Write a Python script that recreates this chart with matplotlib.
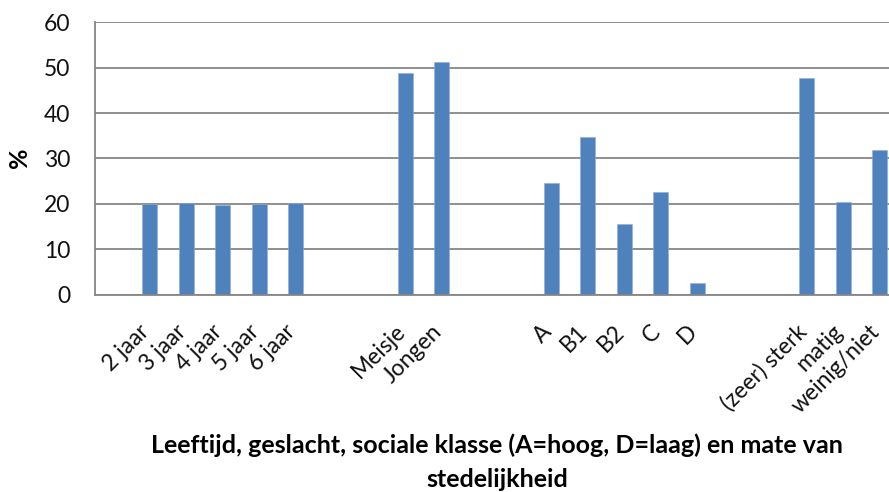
import matplotlib
matplotlib.use("Agg")
import matplotlib.pyplot as plt
import matplotlib.transforms as mtransforms
import numpy as np

categories = ["", "2 jaar", "3 jaar", "4 jaar", "5 jaar", "6 jaar", "", "",
              "Meisje", "Jongen", "", "", "A", "B1", "B2", "C", "D", "", "",
              "(zeer) sterk", "matig", "weinig/niet"]
values = [None, 20.0, 20.1, 19.7, 20.0, 20.1, None, None,
          48.8, 51.2, None, None, 24.5, 34.7, 15.5, 22.6, 2.5, None, None,
          47.8, 20.4, 31.8]
yticks = [0, 10, 20, 30, 40, 50, 60]
xlabel_lines = ["Leeftijd, geslacht, sociale klasse (A=hoog, D=laag) en mate van",
                "stedelijkheid"]
ylabel = "%"

plt.rcParams["font.family"] = ["Lato", "DejaVu Sans"]

W, H = 889, 492
fig = plt.figure(figsize=(W / 100, H / 100), dpi=100)
ax = fig.add_axes([95 / W, 197.5 / H, 803 / W, 272.2 / H])

xs = [i for i, v in enumerate(values) if v is not None]
hs = [v for v in values if v is not None]
ax.bar(xs, hs, width=0.4, color="#4F81BD", edgecolor="#8EAEDC", linewidth=0.4, zorder=3)

ax.set_xlim(-0.5, len(categories) - 0.5)
ax.set_ylim(0, 60)
ax.set_yticks(yticks)
ax.set_yticklabels([str(t) for t in yticks], fontsize=16.5, color="#111111")
ax.set_xticks(range(len(categories)))
ax.set_xticklabels(categories, rotation=45, ha="right", va="top", fontsize=16.5, color="#111111")
ax.tick_params(axis="x", length=0, pad=19)
ax.tick_params(axis="y", length=0, pad=18)
off = mtransforms.ScaledTranslation(4 / 100, 0, fig.dpi_scale_trans)
for lab in ax.get_xticklabels():
    lab.set_transform(lab.get_transform() + off)

ax.yaxis.grid(True, color="#868686", linewidth=1.3, zorder=0)
ax.set_axisbelow(True)
for s in ["top", "right"]:
    ax.spines[s].set_visible(False)
for s in ["left", "bottom"]:
    ax.spines[s].set_color("#868686")
    ax.spines[s].set_linewidth(1.3)
    ax.spines[s].set_zorder(4)

fig.text(20 / W, 1 - 158 / H, ylabel, rotation=90, ha="center", va="center",
         fontsize=18, fontweight="bold")
fig.text(497 / W, 1 - 453 / H, xlabel_lines[0], ha="center", va="baseline",
         fontsize=18, fontweight="bold")
fig.text(497 / W, 1 - 487 / H, xlabel_lines[1], ha="center", va="baseline",
         fontsize=18, fontweight="bold")

fig.savefig("out.png", dpi=100)
